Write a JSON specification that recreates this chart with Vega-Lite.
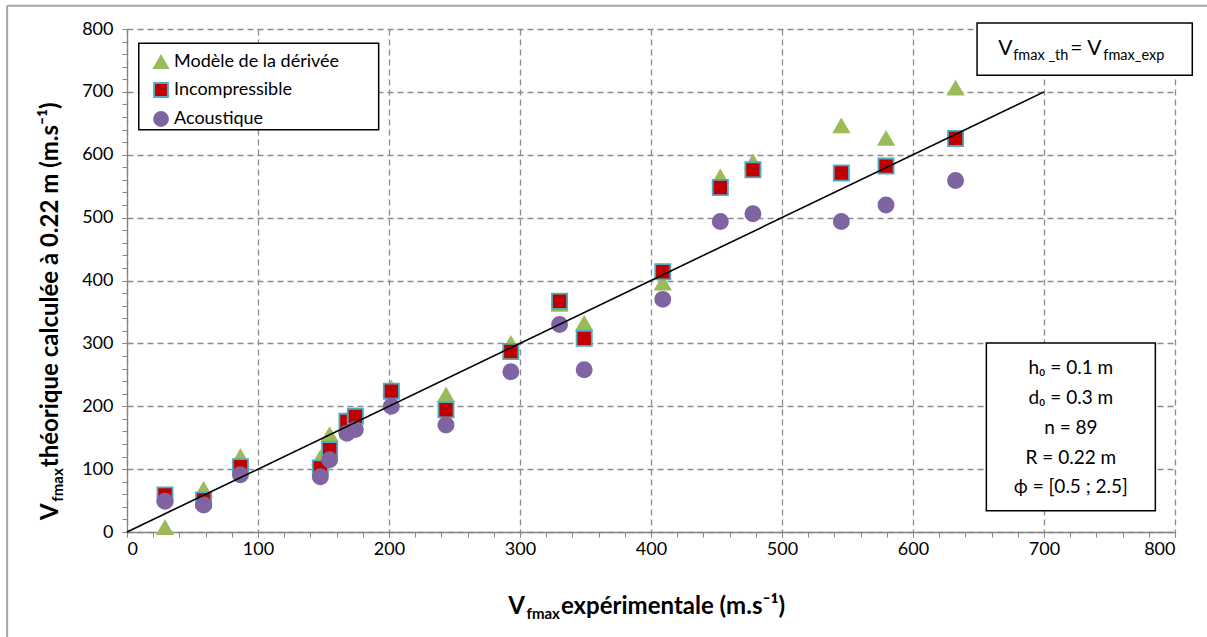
{
  "$schema": "https://vega.github.io/schema/vega-lite/v6.json",
  "width": 1048,
  "height": 503,
  "autosize": {"type": "none"},
  "padding": {"left": 127, "top": 29, "right": 32, "bottom": 105},
  "background": "white",
  "config": {"view": {"stroke": null}, "font": "Lato", "text": {"font": "Lato"}},
  "datasets": {
    "pts": [
      {"series": "Modèle de la dérivée", "x": 29, "y": 7},
      {"series": "Modèle de la dérivée", "x": 58.5, "y": 68},
      {"series": "Modèle de la dérivée", "x": 86.6, "y": 120},
      {"series": "Modèle de la dérivée", "x": 147.6, "y": 118},
      {"series": "Modèle de la dérivée", "x": 154.7, "y": 155},
      {"series": "Modèle de la dérivée", "x": 167.9, "y": 170},
      {"series": "Modèle de la dérivée", "x": 174.3, "y": 186},
      {"series": "Modèle de la dérivée", "x": 201.8, "y": 229},
      {"series": "Modèle de la dérivée", "x": 243.5, "y": 218},
      {"series": "Modèle de la dérivée", "x": 293, "y": 300},
      {"series": "Modèle de la dérivée", "x": 330.2, "y": 362},
      {"series": "Modèle de la dérivée", "x": 349, "y": 332},
      {"series": "Modèle de la dérivée", "x": 409, "y": 396},
      {"series": "Modèle de la dérivée", "x": 452.9, "y": 565},
      {"series": "Modèle de la dérivée", "x": 477.8, "y": 589},
      {"series": "Modèle de la dérivée", "x": 545.3, "y": 646},
      {"series": "Modèle de la dérivée", "x": 579.4, "y": 626},
      {"series": "Modèle de la dérivée", "x": 632.5, "y": 706},
      {"series": "Incompressible", "x": 29, "y": 59},
      {"series": "Incompressible", "x": 58.5, "y": 51},
      {"series": "Incompressible", "x": 86.6, "y": 104},
      {"series": "Incompressible", "x": 147.6, "y": 102},
      {"series": "Incompressible", "x": 154.7, "y": 131},
      {"series": "Incompressible", "x": 167.9, "y": 176},
      {"series": "Incompressible", "x": 174.3, "y": 184},
      {"series": "Incompressible", "x": 201.8, "y": 224},
      {"series": "Incompressible", "x": 243.5, "y": 194.5},
      {"series": "Incompressible", "x": 293, "y": 287},
      {"series": "Incompressible", "x": 330.2, "y": 367},
      {"series": "Incompressible", "x": 349, "y": 308},
      {"series": "Incompressible", "x": 409, "y": 414},
      {"series": "Incompressible", "x": 452.9, "y": 548},
      {"series": "Incompressible", "x": 477.8, "y": 576},
      {"series": "Incompressible", "x": 545.3, "y": 571},
      {"series": "Incompressible", "x": 579.4, "y": 582},
      {"series": "Incompressible", "x": 632.5, "y": 626},
      {"series": "Acoustique", "x": 29, "y": 49},
      {"series": "Acoustique", "x": 58.5, "y": 43},
      {"series": "Acoustique", "x": 86.6, "y": 91},
      {"series": "Acoustique", "x": 147.6, "y": 88},
      {"series": "Acoustique", "x": 154.7, "y": 115},
      {"series": "Acoustique", "x": 167.9, "y": 157},
      {"series": "Acoustique", "x": 174.3, "y": 163},
      {"series": "Acoustique", "x": 201.8, "y": 200},
      {"series": "Acoustique", "x": 243.5, "y": 170},
      {"series": "Acoustique", "x": 293, "y": 255},
      {"series": "Acoustique", "x": 330.2, "y": 330},
      {"series": "Acoustique", "x": 349, "y": 258},
      {"series": "Acoustique", "x": 409, "y": 370},
      {"series": "Acoustique", "x": 452.9, "y": 494},
      {"series": "Acoustique", "x": 477.8, "y": 506},
      {"series": "Acoustique", "x": 545.3, "y": 494},
      {"series": "Acoustique", "x": 579.4, "y": 520},
      {"series": "Acoustique", "x": 632.5, "y": 559}
    ],
    "frame": [
      {"x1": -91.5, "x2": 1000, "y1": 837, "y2": 837},
      {"x1": -91.5, "x2": -91.5, "y1": 837, "y2": -500}
    ],
    "boxes": [
      {"box": "legend", "x1": 9.0, "x2": 192.1, "y1": 777.4, "y2": 639.6},
      {"box": "eq", "x1": 648.9, "x2": 813.2, "y1": 809.5, "y2": 726.6},
      {"box": "params", "x1": 656, "x2": 785, "y1": 300.5, "y2": 33.9}
    ],
    "params": [
      {"label": "h₀ = 0.1 m", "x": 720.5, "y": 261.2},
      {"label": "d₀ = 0.3 m", "x": 720.5, "y": 213.5},
      {"label": "n = 89", "x": 720.5, "y": 165.8},
      {"label": "R = 0.22 m", "x": 720.5, "y": 118.1},
      {"label": "ϕ = [0.5 ; 2.5]", "x": 720.5, "y": 72.0}
    ]
  },
  "layer": [
    {
      "data": {"name": "frame"},
      "mark": {"type": "rule", "stroke": "#a6a6a6", "strokeWidth": 2},
      "encoding": {
        "x": {"field": "x1", "type": "quantitative", "scale": {"domain": [0, 800], "nice": false}, "axis": null},
        "x2": {"field": "x2"},
        "y": {"field": "y1", "type": "quantitative", "scale": {"domain": [0, 800], "nice": false}, "axis": null},
        "y2": {"field": "y2"}
      }
    },
    {
      "data": {"values": [{"x": 0, "y": 0}, {"x": 700, "y": 700}]},
      "mark": {"type": "line", "opacity": 0},
      "encoding": {
        "x": {"field": "x", "type": "quantitative", "scale": {"domain": [0, 800], "nice": false},
          "axis": {"orient": "bottom", "values": [0,20,40,60,80,100,120,140,160,180,200,220,240,260,280,300,320,340,360,380,400,420,440,460,480,500,520,540,560,580,600,620,640,660,680,700,720,740,760,780,800],
            "labels": false, "grid": false, "domain": false, "ticks": true, "tickSize": 5, "tickColor": "#868686", "tickWidth": 1, "title": null}},
        "y": {"field": "y", "type": "quantitative", "scale": {"domain": [0, 800], "nice": false},
          "axis": {"orient": "left", "values": [0,20,40,60,80,100,120,140,160,180,200,220,240,260,280,300,320,340,360,380,400,420,440,460,480,500,520,540,560,580,600,620,640,660,680,700,720,740,760,780,800],
            "labels": false, "grid": false, "domain": false, "ticks": true, "tickSize": 5, "tickColor": "#868686", "tickWidth": 1, "title": null}}
      }
    },
    {
      "data": {"name": "pts"},
      "mark": {"type": "point", "filled": true, "size": 230, "strokeWidth": 1.8, "opacity": 1},
      "encoding": {
        "x": {"field": "x", "type": "quantitative", "scale": {"domain": [0, 800], "nice": false},
          "axis": {"orient": "bottom", "values": [0,100,200,300,400,500,600,700,800], "grid": true, "gridDash": [6, 4], "gridColor": "#8c8c8c", "gridWidth": 1.3,
            "domainColor": "#868686", "domainWidth": 1.3, "tickColor": "#868686", "tickSize": 5, "labelFont": "Lato", "labelFontSize": 18, "labelColor": "#000", "labelPadding": 3, "title": null}},
        "y": {"field": "y", "type": "quantitative", "scale": {"domain": [0, 800], "nice": false},
          "axis": {"orient": "left", "values": [0,100,200,300,400,500,600,700,800], "grid": true, "gridDash": [6, 4], "gridColor": "#8c8c8c", "gridWidth": 1.3,
            "domainColor": "#868686", "domainWidth": 1.3, "tickColor": "#868686", "tickSize": 5, "labelFont": "Lato", "labelFontSize": 18, "labelColor": "#000", "labelPadding": 9, "title": null}},
        "shape": {"field": "series", "type": "nominal",
          "scale": {"domain": ["Modèle de la dérivée", "Incompressible", "Acoustique"], "range": ["triangle-up", "square", "circle"]},
          "legend": {"orient": "none", "legendX": 25, "legendY": 24, "title": null, "labelFont": "Lato", "labelFontSize": 18, "labelColor": "#000", "labelLimit": 400, "symbolSize": 190, "symbolStrokeWidth": 2, "rowPadding": 7, "labelOffset": 4, "padding": 0}},
        "color": {"field": "series", "type": "nominal",
          "scale": {"domain": ["Modèle de la dérivée", "Incompressible", "Acoustique"], "range": ["#9bbb59", "#c00000", "#8064a2"]},
          "legend": {"orient": "none", "legendX": 25, "legendY": 24, "title": null, "labelFont": "Lato", "labelFontSize": 18, "labelColor": "#000", "labelLimit": 400, "symbolSize": 190, "symbolStrokeWidth": 2, "rowPadding": 7, "labelOffset": 4, "padding": 0}},
        "stroke": {"field": "series", "type": "nominal",
          "scale": {"domain": ["Modèle de la dérivée", "Incompressible", "Acoustique"], "range": ["#9bbb59", "#4bacc6", "#8064a2"]},
          "legend": {"orient": "none", "legendX": 25, "legendY": 24, "title": null, "labelFont": "Lato", "labelFontSize": 18, "labelColor": "#000", "labelLimit": 400, "symbolSize": 190, "symbolStrokeWidth": 2, "rowPadding": 7, "labelOffset": 4, "padding": 0}}
      }
    },
    {
      "data": {"values": [{"x": 0, "y": 0}, {"x": 700, "y": 700}]},
      "mark": {"type": "line", "color": "#000", "strokeWidth": 1.6},
      "encoding": {
        "x": {"field": "x", "type": "quantitative", "scale": {"domain": [0, 800], "nice": false}, "axis": null},
        "y": {"field": "y", "type": "quantitative", "scale": {"domain": [0, 800], "nice": false}, "axis": null}
      }
    },
    {
      "data": {"name": "boxes"},
      "mark": {"type": "rect", "fill": "white", "stroke": "#000", "strokeWidth": 1.5},
      "encoding": {
        "x": {"field": "x1", "type": "quantitative", "scale": {"domain": [0, 800], "nice": false}, "axis": null},
        "x2": {"field": "x2"},
        "y": {"field": "y1", "type": "quantitative", "scale": {"domain": [0, 800], "nice": false}, "axis": null},
        "y2": {"field": "y2"}
      }
    },
    {
      "data": {"name": "params"},
      "mark": {"type": "text", "font": "Lato", "fontSize": 19, "align": "center", "baseline": "middle", "color": "#000"},
      "encoding": {
        "x": {"field": "x", "type": "quantitative", "scale": {"domain": [0, 800], "nice": false}, "axis": null},
        "y": {"field": "y", "type": "quantitative", "scale": {"domain": [0, 800], "nice": false}, "axis": null},
        "text": {"field": "label"}
      }
    },
    {
      "data": {"values": [{"x": 718.6, "y": 758.8}]},
      "layer": [
        {"mark": {"type": "text", "text": "V", "font": "Lato", "fontSize": 21, "align": "right", "baseline": "alphabetic", "dx": -56, "color": "#000"}},
        {"mark": {"type": "text", "text": "fmax _th", "font": "Lato", "fontSize": 14.5, "align": "right", "baseline": "alphabetic", "dy": 5, "color": "#000"}},
        {"mark": {"type": "text", "text": "= V", "font": "Lato", "fontSize": 21, "align": "left", "baseline": "alphabetic", "dx": 2, "color": "#000"}},
        {"mark": {"type": "text", "text": "fmax_exp", "font": "Lato", "fontSize": 14.5, "align": "left", "baseline": "alphabetic", "dx": 35, "dy": 5, "color": "#000"}}
      ],
      "encoding": {
        "x": {"field": "x", "type": "quantitative", "scale": {"domain": [0, 800], "nice": false}, "axis": null},
        "y": {"field": "y", "type": "quantitative", "scale": {"domain": [0, 800], "nice": false}, "axis": null}
      }
    },
    {
      "data": {"values": [{"x": 330.5, "y": -130}]},
      "layer": [
        {"mark": {"type": "text", "text": "V", "font": "Lato", "fontWeight": "bold", "fontSize": 24, "align": "right", "baseline": "alphabetic", "dx": -35, "color": "#000"}},
        {"mark": {"type": "text", "text": "fmax", "font": "Lato", "fontWeight": "bold", "fontSize": 15, "align": "right", "baseline": "alphabetic", "dy": 5, "color": "#000"}},
        {"mark": {"type": "text", "text": " expérimentale (m.s⁻¹)", "font": "Lato", "fontWeight": "bold", "fontSize": 24, "align": "left", "baseline": "alphabetic", "dx": 1, "color": "#000"}}
      ],
      "encoding": {
        "x": {"field": "x", "type": "quantitative", "scale": {"domain": [0, 800], "nice": false}, "axis": null},
        "y": {"field": "y", "type": "quantitative", "scale": {"domain": [0, 800], "nice": false}, "axis": null}
      }
    },
    {
      "data": {"values": [{"x": -52.7, "y": 101.4}]},
      "layer": [
        {"mark": {"type": "text", "text": "V", "font": "Lato", "fontWeight": "bold", "fontSize": 24, "align": "right", "baseline": "alphabetic", "angle": 270, "dx": -35, "color": "#000"}},
        {"mark": {"type": "text", "text": "fmax", "font": "Lato", "fontWeight": "bold", "fontSize": 15, "align": "right", "baseline": "alphabetic", "angle": 270, "dy": 5, "color": "#000"}},
        {"mark": {"type": "text", "text": " théorique calculée à 0.22 m (m.s⁻¹)", "font": "Lato", "fontWeight": "bold", "fontSize": 24, "align": "left", "baseline": "alphabetic", "angle": 270, "dx": 1, "color": "#000"}}
      ],
      "encoding": {
        "x": {"field": "x", "type": "quantitative", "scale": {"domain": [0, 800], "nice": false}, "axis": null},
        "y": {"field": "y", "type": "quantitative", "scale": {"domain": [0, 800], "nice": false}, "axis": null}
      }
    }
  ],
  "resolve": {"axis": {"x": "independent", "y": "independent"}}
}
